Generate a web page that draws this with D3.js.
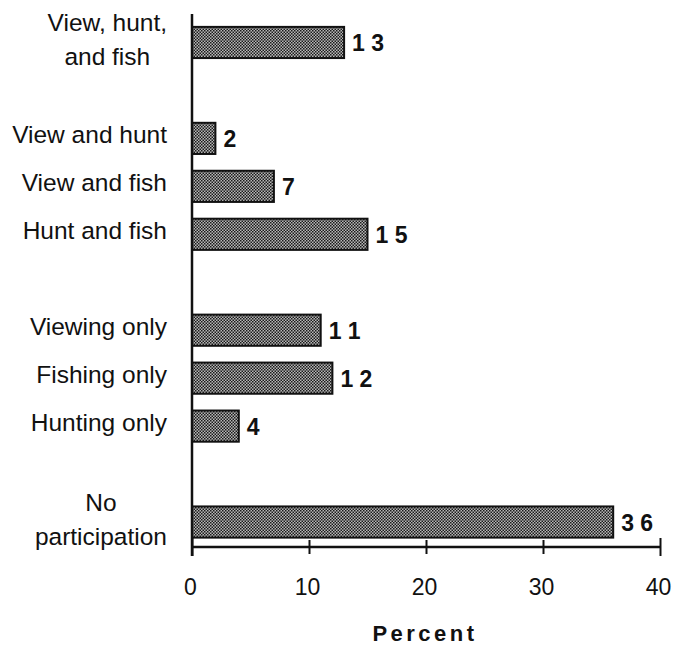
<!DOCTYPE html>
<html>
<head>
<meta charset="utf-8">
<script src="https://cdn.jsdelivr.net/npm/d3@7"></script>
<style>
  body { margin: 0; background: #fff; }
  svg { display: block; }
</style>
</head>
<body>
<script>
// Data (top to bottom); null marks an empty gap row
const categories = [["View, hunt,", "and fish"], null, ["View and hunt"], ["View and fish"], ["Hunt and fish"], null,
  ["Viewing only"], ["Fishing only"], ["Hunting only"], null, ["No", "participation"]];
const values = [13, null, 2, 7, 15, null, 11, 12, 4, null, 36];
const xTicks = [0, 10, 20, 30, 40];

const width = 674;
const height = 645;
const marginLeft = 192;
const marginRight = 14;
const axisY = 547;
const labelRight = 167;
const fontSans = "'Liberation Sans', Arial, Helvetica, sans-serif";

const rows = categories.map((c, i) => ({ key: "r" + i, label: c, value: values[i] }));

const x = d3.scaleLinear().domain([0, 40]).range([marginLeft, width - marginRight]);
const y = d3.scaleBand().domain(rows.map(d => d.key)).range([18.5, 546]).paddingInner(0.35).paddingOuter(0.175);

const svg = d3.select("body").append("svg")
    .attr("width", width)
    .attr("height", height);

// stipple fill
const defs = svg.append("defs");
const pat = defs.append("pattern")
    .attr("id", "stip")
    .attr("width", 3).attr("height", 3)
    .attr("patternUnits", "userSpaceOnUse");
pat.append("rect").attr("width", 3).attr("height", 3).attr("fill", "#b8b8b8");
pat.append("rect").attr("x", 0).attr("y", 0).attr("width", 1.5).attr("height", 1.5).attr("fill", "#1a1a1a");
pat.append("rect").attr("x", 1.5).attr("y", 1.5).attr("width", 1.5).attr("height", 1.5).attr("fill", "#1a1a1a");

const data = rows.filter(d => d.value != null);

// bars
svg.selectAll("rect.bar")
    .data(data)
    .enter()
    .append("rect")
    .attr("class", "bar")
    .attr("x", x(0))
    .attr("y", d => y(d.key))
    .attr("width", d => x(d.value) - x(0))
    .attr("height", y.bandwidth())
    .attr("fill", "url(#stip)")
    .attr("stroke", "#111")
    .attr("stroke-width", 2);

// value labels, digits spaced apart
svg.selectAll("text.val")
    .data(data)
    .enter()
    .append("text")
    .attr("class", "val")
    .attr("x", d => x(d.value) + 8)
    .attr("y", d => y(d.key) + y.bandwidth() / 2 + 9)
    .attr("font-family", fontSans)
    .attr("font-weight", "bold")
    .attr("font-size", 23)
    .attr("fill", "#111")
    .text(d => String(d.value).split("").join(" "));

// category labels
svg.selectAll("text.cat")
    .data(data)
    .enter()
    .append("text")
    .attr("class", "cat")
    .attr("font-family", fontSans)
    .attr("font-size", 24.5)
    .attr("fill", "#111")
    .each(function(d) {
        const t = d3.select(this);
        const cy = y(d.key) + y.bandwidth() / 2;
        if (d.label.length === 1) {
            t.attr("text-anchor", "end").attr("x", labelRight).attr("y", cy + 5).text(d.label[0]);
            return;
        }
        // two-line labels are centred on each other
        t.attr("text-anchor", "middle");
        const spans = d.label.map((s, j) => t.append("tspan").attr("y", cy - 11 + j * 34).text(s));
        const w = d3.max(spans, s => s.node().getComputedTextLength());
        spans.forEach(s => s.attr("x", labelRight - w / 2));
    });

// y axis line
svg.append("line")
    .attr("x1", x(0)).attr("x2", x(0))
    .attr("y1", 14).attr("y2", axisY + 9)
    .attr("stroke", "#111").attr("stroke-width", 2.5);

// x axis
const xAxis = d3.axisBottom(x).tickValues(xTicks).tickSize(7).tickPadding(26);
const gx = svg.append("g")
    .attr("transform", `translate(0,${axisY})`)
    .call(xAxis);
gx.select(".domain").attr("d", `M${x(0)},0H${x(40)}`).attr("stroke", "#111").attr("stroke-width", 2.5);
gx.selectAll(".tick line").attr("y1", d => (d === 0 || d === 40) ? -9 : -7).attr("y2", d => (d === 0 || d === 40) ? 9 : 7)
    .attr("stroke", "#111").attr("stroke-width", 2);
gx.selectAll(".tick text")
    .attr("y", 48).attr("dy", null)
    .attr("x", -2)
    .attr("font-family", fontSans)
    .attr("font-size", 23)
    .attr("fill", "#111");

// axis title
svg.append("text")
    .attr("x", x(20) - 1)
    .attr("y", 641)
    .attr("text-anchor", "middle")
    .attr("font-family", fontSans)
    .attr("font-weight", "bold")
    .attr("font-size", 22)
    .attr("letter-spacing", 3.5)
    .attr("fill", "#111")
    .text("Percent");
</script>
</body>
</html>
